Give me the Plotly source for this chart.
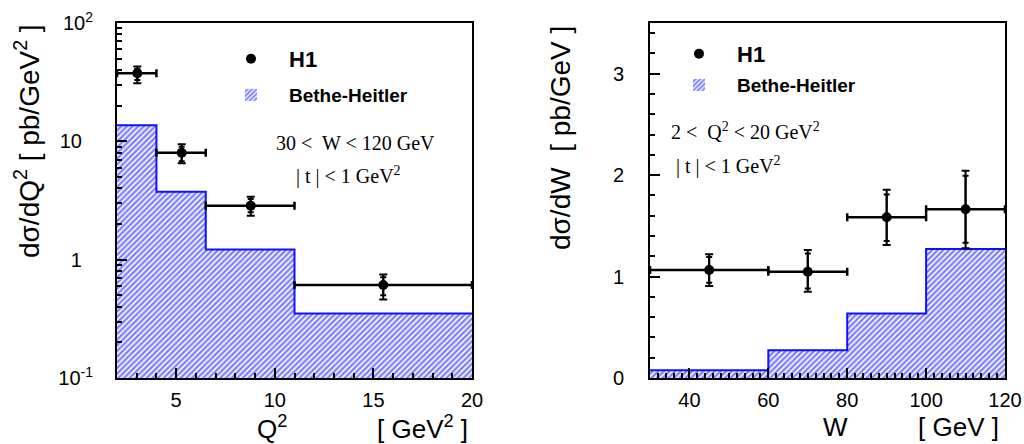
import plotly.graph_objects as go

# ---------------- data: left panel (dsigma/dQ2) ----------------
q2_lo = [2.0, 4.0, 6.5, 11.0]
q2_hi = [4.0, 6.5, 11.0, 20.0]
q2_pt = [3.03, 5.28, 8.78, 15.5]
dsig_dq2 = [37.6, 8.0, 2.86, 0.61]
dq2_stat_up = [3.2, 1.0, 0.39, 0.10]
dq2_stat_dn = [4.6, 1.2, 0.35, 0.11]
dq2_tot_up = [5.2, 1.44, 0.54, 0.14]
dq2_tot_dn = [6.7, 1.48, 0.51, 0.15]
bh_q2 = [13.7, 3.75, 1.22, 0.35]

# ---------------- data: right panel (dsigma/dW) ----------------
w_lo = [30, 60, 80, 100]
w_hi = [60, 80, 100, 120]
w_pt = [45, 70, 90, 110]
dsig_dw = [1.064, 1.047, 1.585, 1.664]
dw_stat_up = [0.13, 0.18, 0.225, 0.33]
dw_stat_dn = [0.124, 0.164, 0.235, 0.33]
dw_tot_up = [0.156, 0.215, 0.27, 0.38]
dw_tot_dn = [0.158, 0.197, 0.274, 0.385]
bh_w = [0.076, 0.274, 0.636, 1.272]

NB = "\u00a0"
q2_ticks = [0.1, 1, 10, 100]
q2_ticktext = ["10<sup>-1</sup>", "1" + NB * 2, "10" + NB * 2, "10<sup>2</sup>"]

BLUE = "#1010ff"
SANS = "Liberation Sans, Arial, sans-serif"
SERIF = "Liberation Serif, Times New Roman, serif"

fig = go.Figure()


def add_panel(xa, ya, lo, hi, pt, val, sup, sdn, tup, tdn, bh, leg_h1, leg_bh):
    centers = [(a + b) / 2 for a, b in zip(lo, hi)]
    widths = [b - a for a, b in zip(lo, hi)]
    fig.add_trace(go.Bar(
        x=centers, y=bh, width=widths, xaxis=xa, yaxis=ya,
        name="<b>Bethe-Heitler</b>", legend=leg_bh,
        marker=dict(color="white", line=dict(width=0),
                    pattern=dict(shape="/", fgcolor="#0000ff", bgcolor="white",
                                 size=4, solidity=0.6)),
    ))
    fig.add_trace(go.Scatter(
        x=list(lo) + [hi[-1]], y=list(bh) + [bh[-1]], xaxis=xa, yaxis=ya,
        mode="lines", line=dict(shape="hv", color=BLUE, width=2),
        showlegend=False, hoverinfo="skip",
    ))
    fig.add_trace(go.Scatter(
        x=pt, y=val, xaxis=xa, yaxis=ya, mode="markers",
        marker=dict(size=1, color="black"), showlegend=False,
        error_y=dict(type="data", array=tup, arrayminus=tdn, symmetric=False,
                     color="black", thickness=2, width=4),
    ))
    fig.add_trace(go.Scatter(
        x=pt, y=val, xaxis=xa, yaxis=ya, mode="markers",
        name="<b>H1</b>", legend=leg_h1,
        marker=dict(size=10, color="black"),
        error_y=dict(type="data", array=sup, arrayminus=sdn, symmetric=False,
                     color="black", thickness=2, width=3),
        error_x=dict(type="data", array=[b - p for b, p in zip(hi, pt)],
                     arrayminus=[p - a for a, p in zip(lo, pt)], symmetric=False,
                     color="black", thickness=2.5, width=4),
    ))


add_panel("x", "y", q2_lo, q2_hi, q2_pt, dsig_dq2, dq2_stat_up, dq2_stat_dn,
          dq2_tot_up, dq2_tot_dn, bh_q2, "legend", "legend2")
add_panel("x2", "y2", w_lo, w_hi, w_pt, dsig_dw, dw_stat_up, dw_stat_dn,
          dw_tot_up, dw_tot_dn, bh_w, "legend3", "legend4")

axis_common = dict(showline=True, mirror=True, linecolor="black", linewidth=2,
                   ticks="inside", ticklen=10, tickwidth=1.5, tickcolor="black",
                   showgrid=False, zeroline=False, automargin=False,
                   tickfont=dict(family=SANS, size=20, color="black"))

leg_common = dict(xanchor="left", yanchor="middle", bgcolor="rgba(0,0,0,0)",
                  itemwidth=66, borderwidth=0)

fig.update_layout(
    width=1024, height=444,
    margin=dict(l=0, r=0, t=0, b=0, autoexpand=False),
    paper_bgcolor="white", plot_bgcolor="white",
    bargap=0, barmode="overlay",
    xaxis=dict(domain=[117 / 1024, 472 / 1024], range=[2, 20], anchor="y",
               tickvals=[5, 10, 15, 20], ticklabelstandoff=3,
               minor=dict(ticks="inside", ticklen=5, dtick=1, tickcolor="black"),
               **axis_common),
    yaxis=dict(domain=[1 - 378 / 444, 1 - 23 / 444], type="log", range=[-1, 2],
               anchor="x", tickvals=q2_ticks, ticktext=q2_ticktext,
               ticklabelstandoff=18,
               minor=dict(ticks="inside", ticklen=5, dtick="D1", tickcolor="black"),
               **axis_common),
    xaxis2=dict(domain=[650 / 1024, 1005 / 1024], range=[30, 120], anchor="y2",
                dtick=20, ticklabelstandoff=3,
                minor=dict(ticks="inside", ticklen=5, dtick=2, tickcolor="black"),
                **axis_common),
    yaxis2=dict(domain=[1 - 378 / 444, 1 - 23 / 444], range=[0, 3.5], anchor="x2",
                dtick=1, ticklabelstandoff=20,
                minor=dict(ticks="inside", ticklen=5, dtick=0.2, tickcolor="black"),
                **axis_common),
    legend=dict(x=213 / 1024, y=1 - 59 / 444,
                font=dict(family=SANS, size=22, color="black"), **leg_common),
    legend2=dict(x=213 / 1024, y=1 - 95 / 444,
                 font=dict(family=SANS, size=19, color="black"), **leg_common),
    legend3=dict(x=661 / 1024, y=1 - 54 / 444,
                 font=dict(family=SANS, size=22, color="black"), **leg_common),
    legend4=dict(x=661 / 1024, y=1 - 85 / 444,
                 font=dict(family=SANS, size=19, color="black"), **leg_common),
)

ann = []
# axis titles
ann.append(dict(text="dσ/dQ<sup>2</sup> [ pb/GeV<sup>2</sup> ]", x=27 / 1024, y=1 - 22 / 444,
                xanchor="center", yanchor="top", textangle=-90,
                font=dict(family=SANS, size=28, color="black")))
ann.append(dict(text="dσ/dW  [ pb/GeV ]", x=560 / 1024, y=1 - 24 / 444,
                xanchor="center", yanchor="top", textangle=-90,
                font=dict(family=SANS, size=28, color="black")))
ann.append(dict(text="Q<sup>2</sup>", x=272 / 1024, y=1 - 427 / 444, xanchor="center",
                yanchor="middle", font=dict(family=SANS, size=26, color="black")))
ann.append(dict(text="[ GeV<sup>2</sup> ]", x=422 / 1024, y=1 - 427 / 444, xanchor="center",
                yanchor="middle", font=dict(family=SANS, size=26, color="black")))
ann.append(dict(text="W", x=835 / 1024, y=1 - 427 / 444, xanchor="center",
                yanchor="middle", font=dict(family=SANS, size=26, color="black")))
ann.append(dict(text="[ GeV ]", x=958 / 1024, y=1 - 427 / 444, xanchor="center",
                yanchor="middle", font=dict(family=SANS, size=26, color="black")))
# cut annotations
ann.append(dict(text="30 <  W < 120 GeV", x=274 / 1024, y=1 - 143 / 444, xanchor="left",
                yanchor="middle", font=dict(family=SERIF, size=20, color="black")))
ann.append(dict(text="| t | < 1 GeV<sup>2</sup>", x=294 / 1024, y=1 - 175 / 444, xanchor="left",
                yanchor="middle", font=dict(family=SERIF, size=20, color="black")))
ann.append(dict(text="2 <  Q<sup>2</sup> < 20 GeV<sup>2</sup>", x=669 / 1024, y=1 - 131 / 444,
                xanchor="left", yanchor="middle", font=dict(family=SERIF, size=20, color="black")))
ann.append(dict(text="| t | < 1 GeV<sup>2</sup>", x=674 / 1024, y=1 - 166 / 444, xanchor="left",
                yanchor="middle", font=dict(family=SERIF, size=20, color="black")))
for a in ann:
    a.update(xref="paper", yref="paper", showarrow=False)
fig.update_layout(annotations=ann)

fig.write_html("out.html", config={"displayModeBar": False},
               post_script="document.body.style.margin='0';document.body.style.overflow='hidden';")
